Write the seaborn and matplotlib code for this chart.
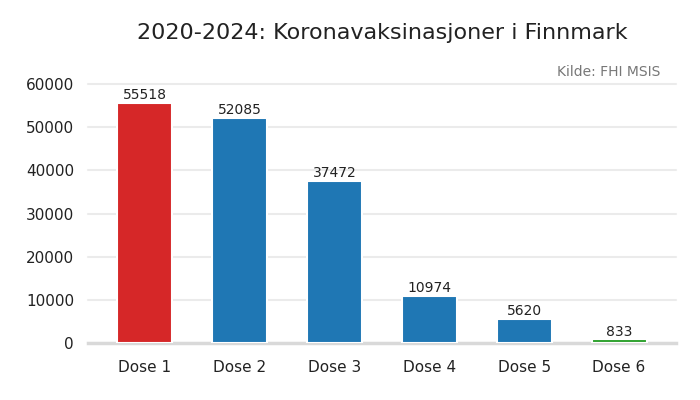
import seaborn as sns
import matplotlib.pyplot as plt
import pandas as pd

doses = ["Dose 1", "Dose 2", "Dose 3", "Dose 4", "Dose 5", "Dose 6"]
counts = [55518, 52085, 37472, 10974, 5620, 833]
bar_colors = ["#d62728", "#1f77b4", "#1f77b4", "#1f77b4", "#1f77b4", "#2ca02c"]
yticks = [0, 10000, 20000, 30000, 40000, 50000, 60000]

sns.set_theme(style="whitegrid")
plt.rcParams['font.family'] = ['DejaVu Sans']

df = pd.DataFrame({"dose": doses, "count": counts})

fig = plt.figure(figsize=(7, 4), dpi=100)
ax = fig.add_axes([88 / 700, 1 - 343 / 400, (676 - 88) / 700, (343 - 84) / 400])

sns.barplot(data=df, x="dose", y="count", hue="dose", palette=bar_colors,
            saturation=1, legend=False, width=0.58, ax=ax, edgecolor="white",
            linewidth=1.5, zorder=3)

for i, v in enumerate(counts):
    ax.text(i, v + 200, str(v), ha="center", va="bottom", fontsize=10, color="#222222")

ax.set_xlim(-0.6, 5.6)
ax.set_ylim(0, 60000)
ax.set_yticks(yticks)
ax.set_yticklabels([str(t) for t in yticks])
ax.set_xlabel("")
ax.set_ylabel("")
ax.grid(axis="x", visible=False)
ax.grid(axis="y", color="#ebebeb", linewidth=1.5, zorder=0)
ax.set_axisbelow(True)
for s in ["left", "right", "top"]:
    ax.spines[s].set_visible(False)
ax.spines["bottom"].set_color("#d9d9d9")
ax.spines["bottom"].set_linewidth(2.5)
ax.tick_params(axis="both", labelsize=11, colors="#222222", length=0)
ax.tick_params(axis="x", pad=12)
ax.tick_params(axis="y", pad=10)
for line in ax.get_ygridlines():
    line.set_clip_on(False)

fig.text(382 / 700, 1 - 33 / 400, "2020-2024: Koronavaksinasjoner i Finnmark",
         ha="center", va="center", fontsize=16, color="#222222")
fig.text(660 / 700, 1 - 72 / 400, "Kilde: FHI MSIS", ha="right", va="center",
         fontsize=10, color="#777777")

fig.savefig("out.png", dpi=100)
